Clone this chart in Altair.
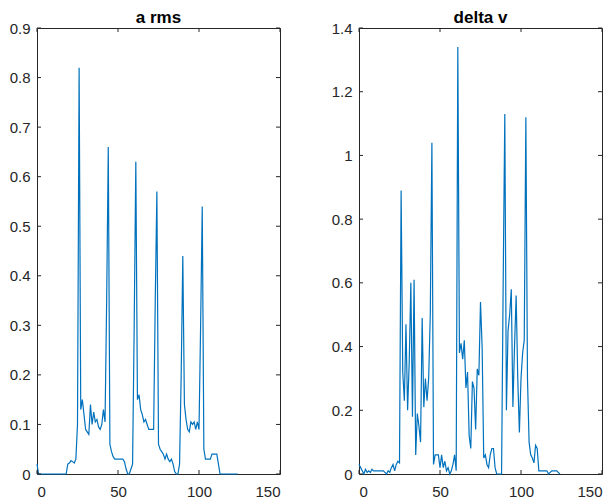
import altair as alt
import pandas as pd

# ---- data ----
x_vals = list(range(125))

a_rms = [
    0.02, 0, 0, 0, 0, 0, 0, 0, 0, 0,            # 0-9
    0, 0, 0, 0, 0, 0, 0, 0, 0, 0.02,            # 10-19
    0.022, 0.027, 0.025, 0.022, 0.03, 0.1, 0.82, 0.13, 0.15, 0.12,   # 20-29
    0.09, 0.085, 0.08, 0.14, 0.1, 0.125, 0.105, 0.11, 0.095, 0.09,   # 30-39
    0.1, 0.13, 0.105, 0.35, 0.66, 0.06, 0.045, 0.035, 0.03, 0.03,    # 40-49
    0.03, 0.03, 0.03, 0.03, 0.025, 0.01, 0, 0, 0.01, 0.02,           # 50-59
    0.3, 0.63, 0.15, 0.16, 0.13, 0.12, 0.105, 0.11, 0.1, 0.09,       # 60-69
    0.09, 0.09, 0.09, 0.35, 0.57, 0.06, 0.05, 0.045, 0.04, 0.03,     # 70-79
    0.04, 0.03, 0.025, 0.03, 0.02, 0.005, 0, 0, 0.02, 0.2,           # 80-89
    0.44, 0.14, 0.11, 0.09, 0.085, 0.105, 0.1, 0.105, 0.09, 0.105,   # 90-99
    0.09, 0.3, 0.54, 0.05, 0.03, 0.03, 0.03, 0.03, 0.04, 0.04,       # 100-109
    0.04, 0.04, 0.02, 0, 0, 0, 0, 0, 0, 0,                           # 110-119
    0, 0, 0, 0, 0,                                                   # 120-124
]

delta_v = [
    0.03, 0.02, 0.01, 0.0, 0.015, 0.005, 0.01, 0.005, 0.015, 0.01,   # 0-9
    0.01, 0.01, 0.01, 0.01, 0.01, 0.01, 0.005, 0.0, 0.01, 0.005,     # 10-19
    0.02, 0.03, 0.01, 0.03, 0.04, 0.035, 0.89, 0.32, 0.23, 0.47,     # 20-29
    0.2, 0.35, 0.6, 0.18, 0.61, 0.06, 0.19, 0.15, 0.1, 0.49,         # 30-39
    0.21, 0.3, 0.23, 0.3, 0.5, 1.04, 0.03, 0.06, 0.06, 0.06,         # 40-49
    0.02, 0.06, 0.02, 0.04, 0.01, 0.02, 0.0, 0.01, 0.03, 0.06,       # 50-59
    0.01, 1.34, 0.38, 0.41, 0.36, 0.42, 0.27, 0.32, 0.12, 0.08,      # 60-69
    0.29, 0.27, 0.14, 0.33, 0.31, 0.54, 0.4, 0.05, 0.06, 0.03,       # 70-79
    0.02, 0.06, 0.08, 0.08, 0.02, 0.0, 0.0, 0.0, 0.0, 0.6,           # 80-89
    1.13, 0.2, 0.45, 0.5, 0.58, 0.21, 0.4, 0.56, 0.3, 0.13,          # 90-99
    0.3, 0.38, 0.42, 1.12, 0.3, 0.1, 0.06, 0.05, 0.035, 0.09,        # 100-109
    0.08, 0.01, 0.01, 0.01, 0.01, 0.01, 0.01, 0.0, 0.005, 0.01,      # 110-119
    0.01, 0.01, 0.01, 0.005, 0.0,                                    # 120-124
]

x_ticks = [0, 50, 100, 150]
a_ticks = [0, 0.1, 0.2, 0.3, 0.4, 0.5, 0.6, 0.7, 0.8, 0.9]
v_ticks = [0, 0.2, 0.4, 0.6, 0.8, 1.0, 1.2, 1.4]

# ---- styling ----
W, H = 243, 446
TICK = 4
BLUE = "#0072BD"
AX = "#262626"
FONT = "Liberation Sans"


def panel(values, ticks, ymax, title, fmt):
    df = pd.DataFrame({"x": x_vals, "y": values})
    xs = alt.X("x:Q", scale=alt.Scale(domain=[0, 150], nice=False, zero=False),
               axis=alt.Axis(values=x_ticks, title=None, labelPadding=10))
    ys = alt.Y("y:Q", scale=alt.Scale(domain=[0, ymax], nice=False),
               axis=alt.Axis(values=ticks, format=fmt, title=None, labelPadding=7))
    line = alt.Chart(df).mark_line(color=BLUE, strokeWidth=1.2).encode(x=xs, y=ys)

    ydf = pd.DataFrame({"y": ticks})
    xdf = pd.DataFrame({"x": x_ticks})
    yl = alt.Chart(ydf).mark_rule(color=AX, strokeWidth=1).encode(
        y=ys, x=alt.value(0), x2=alt.value(TICK))
    yr = alt.Chart(ydf).mark_rule(color=AX, strokeWidth=1).encode(
        y=ys, x=alt.value(W - TICK), x2=alt.value(W))
    xb = alt.Chart(xdf).mark_rule(color=AX, strokeWidth=1).encode(
        x=xs, y=alt.value(H - TICK), y2=alt.value(H))
    xt = alt.Chart(xdf).mark_rule(color=AX, strokeWidth=1).encode(
        x=xs, y=alt.value(0), y2=alt.value(TICK))

    return alt.layer(line, yl, yr, xb, xt).properties(
        width=W, height=H,
        title=alt.TitleParams(title, fontSize=17, fontWeight="bold", font=FONT,
                              color="#000000", offset=0, dy=6, anchor="middle",
                              frame="group"),
    )


left = panel(a_rms, a_ticks, 0.9, "a rms", ".1~f")
right = panel(delta_v, v_ticks, 1.4, "delta v", ".1~f")

chart = alt.hconcat(left, right, spacing=49).properties(
    padding={"left": 0, "top": 0, "right": 0, "bottom": 0},
    background="white",
).configure_view(
    stroke=AX, strokeWidth=1
).configure_axis(
    domain=False, ticks=False, tickSize=0, grid=False,
    labelFont=FONT, labelFontSize=15, labelColor=AX,
)

chart.save("out.html", embed_options={"renderer": "svg", "actions": False})
